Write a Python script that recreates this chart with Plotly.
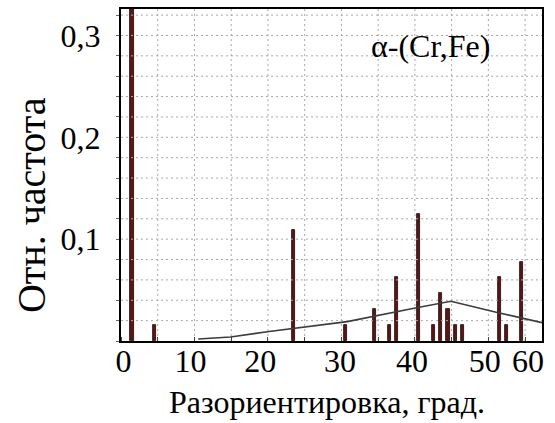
import plotly.graph_objects as go

# Misorientation-angle histogram (bin centres, degrees) and relative frequencies
angles = [1.5, 4.5, 23.5, 30.5, 34.5, 36.5, 37.5, 40.5, 42.5, 43.5,
          44.5, 45.5, 46.5, 51.5, 52.5, 54.5]
freqs = [0.344, 0.016, 0.109, 0.016, 0.031, 0.016, 0.063, 0.125, 0.016, 0.047,
         0.031, 0.016, 0.016, 0.063, 0.016, 0.078]

# Random (Mackenzie-type) reference distribution
mk_angles = [10.5, 14.9, 19.9, 24.4, 30.8, 39.7, 44.9, 51.2, 57.3]
mk_freqs = [0.002, 0.004, 0.009, 0.013, 0.019, 0.032, 0.039, 0.028, 0.018]

# Axis labels
x_labels = ["0", "10", "20", "30", "40", "50", "60"]
x_label_pos = [0.35, 9.45, 18.95, 29.8, 39.6, 49.5, 55.4]
y_labels = ["0,1", "0,2", "0,3"]
y_label_pos = [0.1, 0.2, 0.3]

X_RANGE = [0, 57.3]
Y_RANGE = [0, 0.326]
X_STEP = 5
Y_STEP = 0.02

FONT = "Liberation Serif"
GRID = "#a8a8a8"

# Dotted grid drawn as one line trace (segments separated by None)
gx, gy = [], []
v = X_STEP
while v < X_RANGE[1]:
    gx += [v, v, None]
    gy += [Y_RANGE[0], Y_RANGE[1], None]
    v += X_STEP
k = 1
while k * Y_STEP < Y_RANGE[1]:
    gx += [X_RANGE[0], X_RANGE[1], None]
    gy += [k * Y_STEP, k * Y_STEP, None]
    k += 1

fig = go.Figure()
fig.add_trace(go.Scatter(
    x=gx, y=gy, mode="lines", hoverinfo="skip",
    line=dict(color=GRID, width=1, dash="2px,3px"),
    showlegend=False,
))
fig.add_trace(go.Bar(
    x=angles, y=freqs, width=0.42,
    marker=dict(color="#5a1616", line=dict(color="#1c0606", width=0.8)),
    showlegend=False,
))
fig.add_trace(go.Scatter(
    x=mk_angles, y=mk_freqs, mode="lines",
    line=dict(color="#3c3c3c", width=1.6),
    showlegend=False,
))

fig.update_layout(
    template="none",
    width=555, height=423, autosize=False,
    margin=dict(l=121, r=13, t=9, b=82),
    paper_bgcolor="white", plot_bgcolor="white",
    font=dict(family=FONT, color="black", size=31),
    bargap=0,
)
fig.update_xaxes(
    range=X_RANGE,
    tickmode="array", tickvals=x_label_pos, ticktext=x_labels,
    ticks="", showgrid=False, zeroline=False,
    showline=True, mirror=True, linecolor="black", linewidth=2,
    tickfont=dict(size=32, family=FONT, color="black"),
    ticklabelstandoff=-9,
    minor=dict(tickmode="linear", tick0=0, dtick=X_STEP, showgrid=False,
               ticks="inside", ticklen=4, tickcolor="#444"),
)
fig.update_yaxes(
    range=Y_RANGE,
    tickmode="array", tickvals=y_label_pos, ticktext=y_labels,
    ticks="", showgrid=False, zeroline=False,
    showline=True, mirror=True, linecolor="black", linewidth=2,
    tickfont=dict(size=32, family=FONT, color="black"),
    ticklabelstandoff=12,
    minor=dict(tickmode="linear", tick0=0, dtick=Y_STEP, showgrid=False,
               ticks="outside", ticklen=3, tickcolor="#666"),
)

fig.add_annotation(
    text="Отн. частота", textangle=-90, showarrow=False,
    xref="paper", yref="paper", x=-0.211, y=0.41,
    xanchor="center", yanchor="middle",
    font=dict(family=FONT, size=40, color="black"),
)
fig.add_annotation(
    text="Разориентировка, град.", showarrow=False,
    xref="paper", yref="paper", x=0.489, y=-0.184,
    xanchor="center", yanchor="middle",
    font=dict(family=FONT, size=32, color="black"),
)
fig.add_annotation(
    text="α-(Cr,Fe)", showarrow=False,
    xref="paper", yref="paper", x=0.734, y=0.89,
    xanchor="center", yanchor="middle",
    font=dict(family=FONT, size=32, color="black"),
)

fig.write_html("out.html")
